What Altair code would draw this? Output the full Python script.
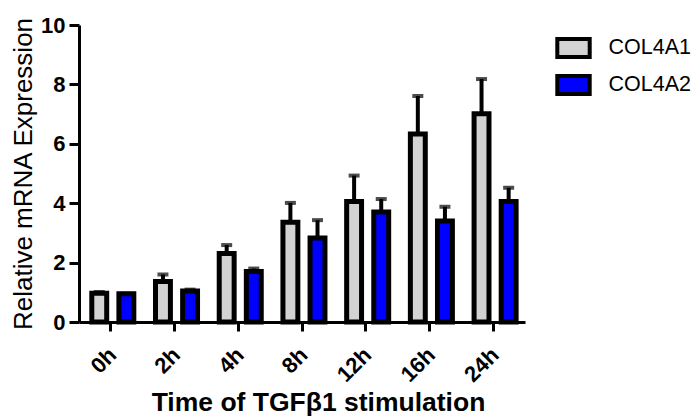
import altair as alt
import pandas as pd

times = ["0h", "2h", "4h", "8h", "12h", "16h", "24h"]
genes = ["COL4A1", "COL4A2"]
col4a1_mean = [0.97, 1.36, 2.31, 3.36, 4.06, 6.33, 7.01]
col4a1_upper = [1.01, 1.60, 2.59, 4.01, 4.93, 7.61, 8.18]
col4a2_mean = [0.95, 1.04, 1.70, 2.83, 3.70, 3.40, 4.06]
col4a2_upper = [0.95, 1.09, 1.80, 3.43, 4.14, 3.88, 4.52]
y_ticks = [0, 2, 4, 6, 8, 10]

rows = []
for i, t in enumerate(times):
    rows.append({"time": t, "gene": genes[0], "value": col4a1_mean[i], "upper": col4a1_upper[i]})
    rows.append({"time": t, "gene": genes[1], "value": col4a2_mean[i], "upper": col4a2_upper[i]})
df = pd.DataFrame(rows)

FONT = "Liberation Sans"

x_enc = alt.X(
    "time:N",
    sort=times,
    scale=alt.Scale(paddingInner=0, paddingOuter=0),
    axis=alt.Axis(
        title="Time of TGF\u03b21 stimulation",
        labelAngle=-45,
        labelPadding=13,
        labelOffset=-5,
        tickSize=9,
        titleFontSize=26.5,
        titleFontWeight="bold",
        titleX=239,
        titleY=88,
        titleBaseline="alphabetic",
        titleAlign="center",
    ),
)
xoff_enc = alt.XOffset(
    "gene:N",
    sort=genes,
    scale=alt.Scale(paddingInner=0.45, paddingOuter=0.4, align=0.59),
)

base = alt.Chart(df)

bars = base.mark_bar().encode(
    x=x_enc,
    xOffset=xoff_enc,
    y=alt.Y(
        "value:Q",
        scale=alt.Scale(domain=[0, 10], nice=False),
        axis=alt.Axis(
            title="Relative mRNA Expression",
            values=y_ticks,
            tickSize=10,
            labelPadding=4,
            titleFontSize=26,
            titleFontWeight="normal",
            titleX=-48,
            titleY=148.5,
            titleBaseline="alphabetic",
            titleAlign="center",
            titleAngle=-90,
        ),
    ),
    fill=alt.Fill(
        "gene:N",
        sort=genes,
        scale=alt.Scale(domain=genes, range=["#d3d3d3", "#0000ff"]),
        legend=alt.Legend(
            title=None,
            orient="none",
            legendX=483.5,
            legendY=12,
            symbolType="M-1.8,-1H1.8V1H-1.8Z",
            symbolSize=324,
            symbolStrokeColor="black",
            symbolStrokeWidth=4,
            symbolOpacity=1,
            labelFont=FONT,
            labelFontSize=21.5,
            labelColor="black",
            labelOffset=24,
            rowPadding=3,
            padding=0,
        ),
    ),
    stroke=alt.value("black"),
    strokeWidth=alt.value(5),
    opacity=alt.value(1),
)

rules = base.mark_rule(color="black", strokeWidth=4).encode(
    x=x_enc,
    xOffset=xoff_enc,
    y="value:Q",
    y2="upper:Q",
)

caps = base.mark_tick(color="black", orient="horizontal", size=11, thickness=4).encode(
    x=x_enc,
    xOffset=xoff_enc,
    y="upper:Q",
)

chart = (
    alt.layer(rules, caps, bars)
    .properties(
        width=446,
        height=297,
        autosize=alt.AutoSizeParams(type="none"),
        padding={"left": 79, "top": 25, "right": 175, "bottom": 97},
        background="white",
    )
    .configure_view(stroke=None)
    .configure_axis(
        grid=False,
        domainColor="black",
        domainWidth=3,
        tickColor="black",
        tickWidth=3,
        labelFont=FONT,
        labelFontSize=22,
        labelFontWeight="bold",
        labelColor="black",
        titleFont=FONT,
        titleColor="black",
    )
)

chart.save("out.html", embed_options={"renderer": "svg", "actions": False})
